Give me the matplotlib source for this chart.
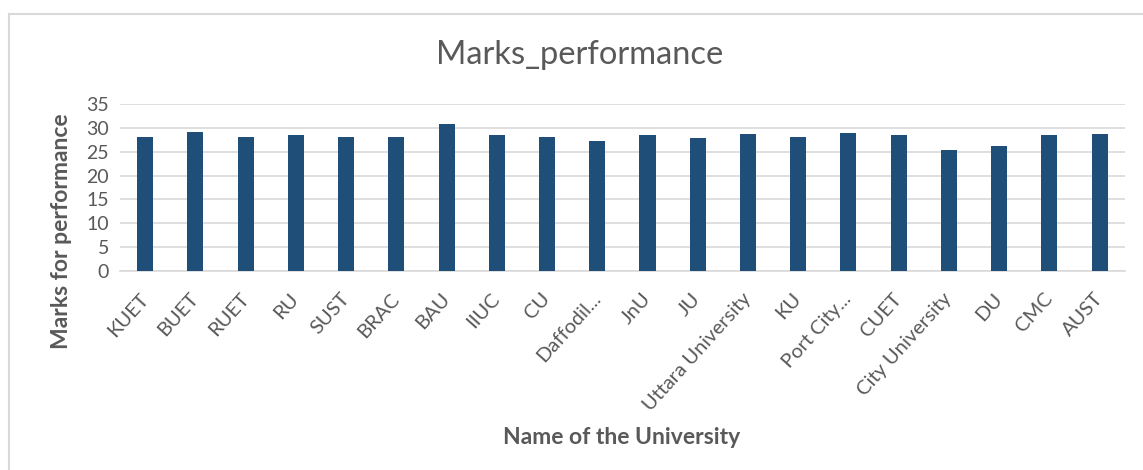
import matplotlib.pyplot as plt
from matplotlib.lines import Line2D

# -----------------------------------------------------------------------------
# Data
# -----------------------------------------------------------------------------
universities = [
    "KUET", "BUET", "RUET", "RU", "SUST", "BRAC", "BAU", "IIUC", "CU",
    "Daffodil...", "JnU", "JU", "Uttara University", "KU", "Port City...",
    "CUET", "City University", "DU", "CMC", "AUST",
]
marks = [
    28.2, 29.1, 28.2, 28.5, 28.2, 28.2, 30.8, 28.5, 28.2,
    27.3, 28.5, 27.9, 28.75, 28.2, 29.0,
    28.5, 25.4, 26.2, 28.5, 28.75,
]
y_ticks = [0, 5, 10, 15, 20, 25, 30, 35]

BAR_COLOR = "#1F4E79"
TEXT_COLOR = "#595959"
GRID_COLOR = "#D9D9D9"

plt.rcParams['font.family'] = ['Lato', 'DejaVu Sans']

fig = plt.figure(figsize=(11.43, 4.70), dpi=100)
ax = fig.add_axes([0.105, 0.424, 0.879, 0.354])

x = range(len(universities))
ax.bar(x, marks, width=0.32, color=BAR_COLOR, zorder=3)

ax.set_xlim(-0.5, len(universities) - 0.5)
ax.set_ylim(0, 35)
ax.set_yticks(y_ticks)
ax.yaxis.grid(True, color=GRID_COLOR, linewidth=1.2, zorder=0)
ax.tick_params(axis='y', length=0, labelsize=14, labelcolor=TEXT_COLOR, pad=8)
ax.tick_params(axis='x', length=0, labelsize=14.5, labelcolor=TEXT_COLOR, pad=18)

ax.set_xticks(list(x))
ax.set_xticklabels(universities, rotation=48, ha='right', va='center',
                   rotation_mode='anchor')

for side in ['top', 'right', 'left']:
    ax.spines[side].set_visible(False)
ax.spines['bottom'].set_color(GRID_COLOR)
ax.spines['bottom'].set_linewidth(1.2)

fig.text(62 / 1143, 0.509, "Marks for performance", fontsize=16.5,
         fontweight='bold', color=TEXT_COLOR, rotation=90,
         ha='center', va='center')
fig.text(0.544, 0.07, "Name of the University", fontsize=16.5,
         fontweight='bold', color=TEXT_COLOR, ha='center', va='center')
fig.text(0.507, 0.882, "Marks_performance", fontsize=23.5, color=TEXT_COLOR,
         ha='center', va='center')

# light chart-area frame (top and left edges visible in the reference)
fig.add_artist(Line2D([9 / 1143, 1], [1 - 14 / 470, 1 - 14 / 470],
                      color=GRID_COLOR, linewidth=1.5))
fig.add_artist(Line2D([9 / 1143, 9 / 1143], [0, 1 - 14 / 470],
                      color=GRID_COLOR, linewidth=1.5))

fig.savefig("out.png", dpi=100)
